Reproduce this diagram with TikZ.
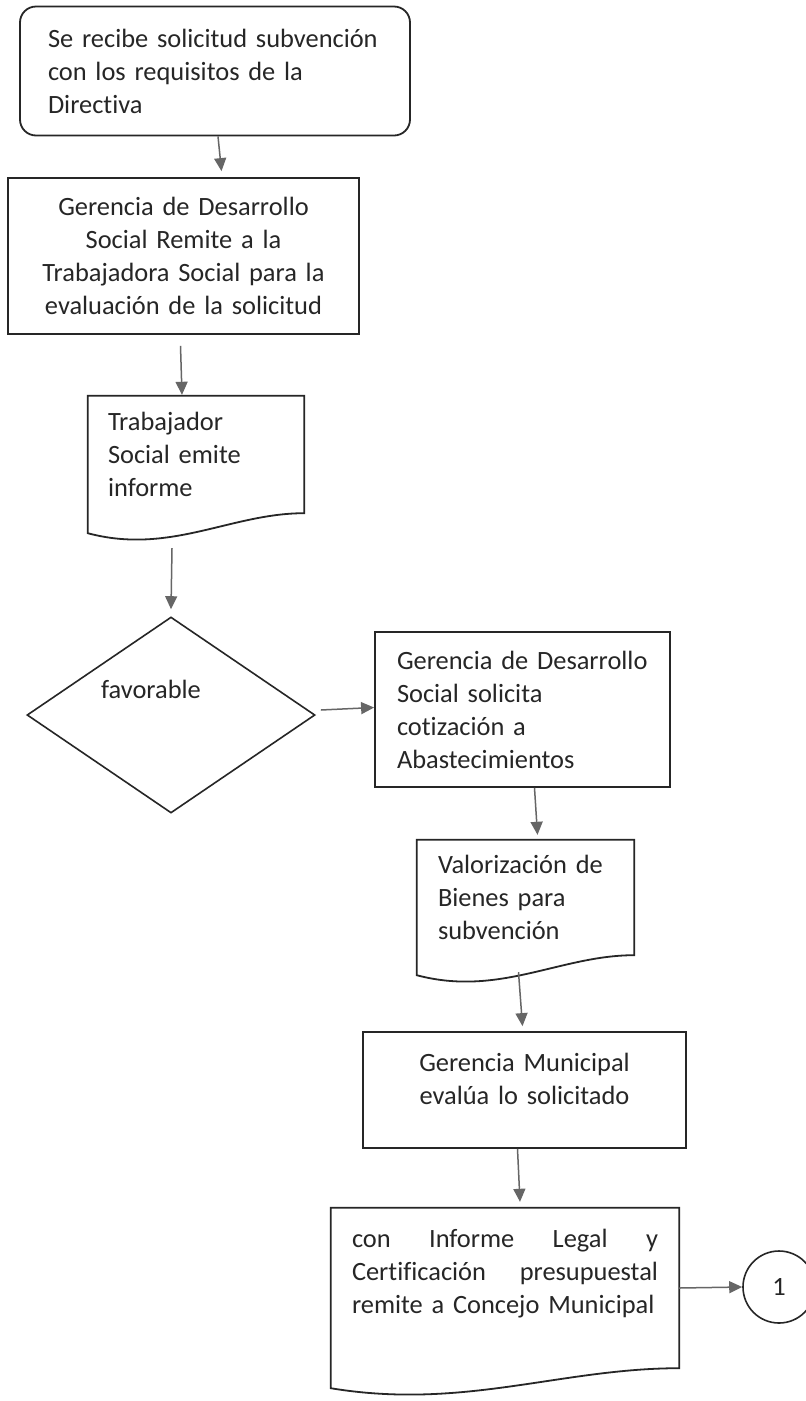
\documentclass[tikz,border=0pt]{standalone}
\usepackage{fontspec}
\setmainfont{Carlito}[Ligatures=NoCommon]
\usetikzlibrary{shapes.geometric,arrows.meta,calc}

\tikzset{
	txt/.style={font=\fontsize{26.4}{33}\selectfont, text=black!85},
	procbox/.style={txt, draw=black!85, line width=1.8pt, inner ysep=0pt},
	startbox/.style={procbox, rounded corners=16pt},
	docbox/.style={txt, inner ysep=0pt},
	decision/.style={diamond, draw=black!85, line width=1.6pt, inner sep=0pt},
	connector/.style={circle, txt, draw=black!85, line width=1.6pt, minimum size=72pt, inner sep=0pt},
	arr/.style={draw=black!60, line width=1.5pt, -{Triangle[length=13pt,width=12pt]}},
}

% document shape: straight top, wavy bottom
\newcommand{\docshape}[1]{%
	\draw[black!85, line width=1.8pt] (#1.north west) -- (#1.north east) -- (#1.south east)
		.. controls ($(#1.south east)!0.34!(#1.south west)$) and ([yshift=-42pt]$(#1.south east)!0.62!(#1.south west)$)
		.. ([yshift=-20pt]#1.south west) -- cycle;}
% extra depth to lift text inside a box
\newcommand{\liftby}[1]{\rule[-#1]{0pt}{#1}}

\begin{document}
\begin{tikzpicture}[x=1pt,y=-1pt]
		\useasboundingbox (0,0) rectangle (806,1401);
		\clip (0,0) rectangle (806,1401);
		\fill[white] (0,0) rectangle (806,1401);

		\node[startbox, minimum width=390pt, minimum height=129pt, text width=334pt, inner xsep=28pt, align=left] (start) at (215,71) {Se recibe solicitud subvención\\con los requisitos de la\\Directiva};

		\node[procbox, minimum width=351pt, minimum height=156pt, text width=311pt, inner xsep=20pt, align=center] (remite) at (183.5,256) {Gerencia de Desarrollo\\Social Remite a la\\Trabajadora Social para la\\evaluación de la solicitud};

		\node[docbox, minimum width=216pt, minimum height=117pt, text width=176pt, inner xsep=20pt, align=left] (informe) at (196,454.5) {Trabajador\\Social emite\\informe};
		\docshape{informe}

		\node[decision, minimum width=288pt, minimum height=196pt] (favor) at (171,715) {};
		\node[txt] (favtxt) at (151,689) {favorable};

		\node[procbox, minimum width=295pt, minimum height=155pt, text width=251pt, inner xsep=22pt, align=left] (cotiza) at (522.5,709.5) {Gerencia de Desarrollo\\Social solicita\\cotización a\\Abastecimientos};

		\node[docbox, minimum width=217pt, minimum height=115pt, text width=175pt, inner xsep=21pt, align=left] (valor) at (525.5,897.5) {Valorización de\\Bienes para\\subvención};
		\docshape{valor}

		\node[procbox, minimum width=323pt, minimum height=116pt, text width=283pt, inner xsep=20pt, align=center] (gerencia) at (524.5,1090) {Gerencia Municipal\\evalúa lo solicitado\liftby{23pt}};

		\node[docbox, minimum width=348pt, minimum height=160pt, text width=306pt, inner xsep=21pt, align=left] (concejo) at (505,1288) {con\hfill Informe\hfill Legal\hfill y\\Certificación\hfill presupuestal\\remite a Concejo Municipal\liftby{34pt}};
		\docshape{concejo}

		\node[connector] (uno) at (779,1287) {1};

		\draw[arr] ([xshift=3pt]start.south) -- ([xshift=38pt,yshift=6pt]remite.north);
		\draw[arr] ([xshift=-3pt,yshift=-11pt]remite.south) -- ([xshift=-14pt,yshift=1pt]informe.north);
		\draw[arr] ([xshift=-24pt,yshift=-35pt]informe.south) -- ([yshift=7pt]favor.north);
		\draw[arr] ([xshift=5pt,yshift=5pt]favor.east) -- ([yshift=2pt]cotiza.west);
		\draw[arr] ([xshift=12pt]cotiza.south) -- ([xshift=12pt,yshift=5pt]valor.north);
		\draw[arr] ([xshift=-7pt,yshift=-17pt]valor.south) -- ([xshift=-2pt,yshift=5pt]gerencia.north);
		\draw[arr] ([xshift=-7pt]gerencia.south) -- ([xshift=15pt,yshift=6pt]concejo.north);
		\draw[arr] (concejo.east) -- (uno.west);

	\end{tikzpicture}
\end{document}
